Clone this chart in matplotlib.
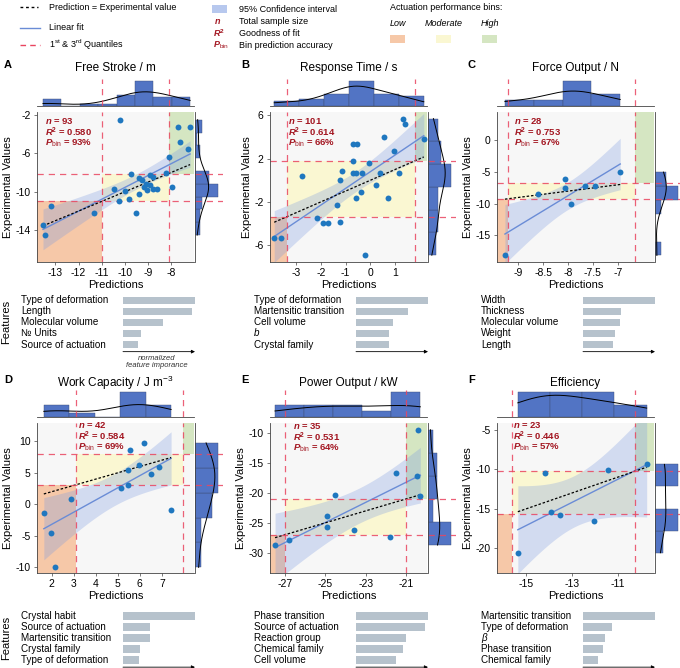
import matplotlib.pyplot as plt
import numpy as np
from matplotlib.patches import Rectangle
from matplotlib.transforms import blended_transform_factory

plt.rcParams['font.family'] = ['Liberation Sans', 'DejaVu Sans']
plt.rcParams['axes.unicode_minus'] = False
plt.rcParams['mathtext.fontset'] = 'custom'
plt.rcParams['mathtext.rm'] = 'Liberation Sans'
plt.rcParams['mathtext.it'] = 'Liberation Sans:italic'
plt.rcParams['mathtext.bf'] = 'Liberation Sans:bold'
plt.rcParams['mathtext.bfit'] = 'Liberation Sans:italic:bold'

# ---- data -------------------------------------------------------------
letters = ['A', 'B', 'C', 'D', 'E', 'F']
titles = ['Free Stroke / m', 'Response Time / s', 'Force Output / N',
          'Work Capacity / J m$^{-3}$', 'Power Output / kW', 'Efficiency']
n_samples = [93, 101, 28, 42, 35, 23]
r2_scores = ['0.580', '0.614', '0.753', '0.584', '0.531', '0.446']
p_bin = [93, 66, 67, 69, 64, 57]
q1 = [-11.0, -3.35, -9.2, 3.08, -27.0, -15.6]
q3 = [-8.1, 1.8, -6.66, 7.95, -21.0, -10.25]

pred_A = [-13.2, -13.54, -13.47, -11.35, -10.45, -10.27, -10.19, -9.98, -9.82,
          -9.72, -9.5, -9.4, -9.4, -9.24, -9.17, -9.1, -9.02, -8.9, -8.9,
          -8.77, -8.77, -8.6, -8.23, -8.09, -7.97, -7.68, -7.6, -7.24, -7.17]
exp_A = [-11.5, -13.5, -14.5, -12.2, -9.7, -11.0, -2.5, -9.9, -10.7,
         -8.1, -12.2, -8.6, -10.2, -8.8, -9.5, -9.2, -9.85, -9.3, -8.2,
         -8.5, -9.7, -9.7, -8.0, -6.4, -9.5, -3.3, -4.8, -5.5, -3.3]
pred_B = [-3.88, -3.61, -2.77, -2.15, -1.92, -1.73, -1.23, -1.22, -1.15, -1.36,
          -0.71, -0.55, -0.71, -0.71, -0.59, -0.59, -0.37, -0.35, -0.05, -0.21,
          0.22, 0.37, 0.53, 0.71, 0.94, 1.16, 1.3, 1.41, 2.15]
exp_B = [-5.29, -5.29, 0.37, -3.48, -3.91, -3.91, -3.82, 0.0, 0.86, -2.31,
         3.32, 3.38, 1.78, 0.71, 0.71, -1.6, -1.05, 0.71, 1.6, -6.92,
         -0.43, 0.71, 4.0, -1.6, 2.71, 0.71, 5.69, 5.17, 3.85]
pred_C = [-9.27, -8.6, -8.07, -8.07, -7.95, -7.65, -7.45, -6.95]
exp_C = [-18.16, -8.53, -6.05, -7.47, -10.1, -7.26, -7.26, -5.0]
pred_D = [1.64, 1.97, 2.15, 2.87, 5.13, 5.45, 5.45, 5.55, 5.96, 6.18, 6.52, 6.87, 7.42]
exp_D = [-1.38, -4.55, -10.0, 0.85, 2.59, 3.12, 5.4, 8.68, 6.3, 9.74, 4.81, 5.87, -0.95]
pred_E = [-27.49, -26.8, -24.92, -24.92, -24.5, -23.6, -21.82, -21.51, -20.46, -20.41, -20.3]
exp_E = [-28.72, -27.94, -23.78, -25.67, -20.28, -26.22, -27.33, -16.67, -17.11, -9.44, -20.44]
pred_F = [-15.36, -14.18, -13.92, -13.53, -12.05, -11.43, -9.73]
exp_F = [-20.54, -10.42, -15.42, -15.71, -16.58, -10.12, -9.38]

preds = [pred_A, pred_B, pred_C, pred_D, pred_E, pred_F]
exps = [exp_A, exp_B, exp_C, exp_D, exp_E, exp_F]

xticks = [[-13, -12, -11, -10, -9, -8], [-3, -2, -1, 0, 1], [-9, -8.5, -8, -7.5, -7],
          [2, 3, 4, 5, 6, 7], [-27, -25, -23, -21], [-15, -13, -11]]
yticks = [[-14, -10, -6, -2], [-6, -2, 2, 6], [-15, -10, -5, 0],
          [-10, -5, 0, 5, 10], [-30, -25, -20, -15, -10], [-20, -15, -10, -5]]

feat_names = [
    ['Type of deformation', 'Length', 'Molecular volume', '№ Units', 'Source of actuation'],
    ['Type of deformation', 'Martensitic transition', 'Cell volume', 'b', 'Crystal family'],
    ['Width', 'Thickness', 'Molecular volume', 'Weight', 'Length'],
    ['Crystal habit', 'Source of actuation', 'Martensitic transition', 'Crystal family',
     'Type of deformation'],
    ['Phase transition', 'Source of actuation', 'Reaction group', 'Chemical family', 'Cell volume'],
    ['Martensitic transition', 'Type of deformation', 'β', 'Phase transition', 'Chemical family'],
]
feat_imp = [
    [1.0, 0.955, 0.55, 0.25, 0.21],
    [1.0, 0.72, 0.51, 0.465, 0.455],
    [1.0, 0.525, 0.51, 0.45, 0.41],
    [1.0, 0.38, 0.37, 0.24, 0.22],
    [1.0, 0.96, 0.69, 0.65, 0.56],
    [1.0, 0.40, 0.31, 0.28, 0.21],
]

# ---- style / layout ---------------------------------------------------
LOW, MOD, HIGH = '#F6C8A8', '#FAF7D2', '#D5E6C2'
BG = '#F7F7F7'
PT = '#1F77BF'
FIT = '#6A8CD6'
CI = '#7D9BE0'
HIST = '#5274C4'
QCOL = '#E94560'
RED = '#A31621'
FEAT = '#B6C2CC'

xlims = [(-13.8, -7.0), (-4.05, 2.28), (-9.43, -6.27), (1.33, 8.46),
         (-27.74, -19.97), (-16.27, -9.41)]
ylims = [(-17.3, -1.7), (-7.55, 6.3), (-19.2, 4.5), (-10.9, 12.9),
         (-33.4, -8.3), (-23.1, -4.15)]
note_pos = [(0.05, 0.94), (0.115, 0.94), (0.11, 0.94), (0.26, 0.985),
            (0.145, 0.98), (0.10, 0.985)]

W, H = 680, 668
col_left = [37, 270, 497]
row_top = [112, 423]
title_y = [68, 383]
letter_x = [4, 241, 468]
feat_top = [295, 610.5]


def box(x0, y0, x1, y1):
    return [x0 / W, 1 - y1 / H, (x1 - x0) / W, (y1 - y0) / H]


def t975(df):
    z = 1.959964
    return z + (z**3 + z) / (4 * df) + (5 * z**5 + 16 * z**3 + 3 * z) / (96 * df**2)


def kde_curve(v, grid, binwidth):
    bw = v.std(ddof=1) * len(v) ** (-0.2)
    dens = np.exp(-0.5 * ((grid[:, None] - v[None, :]) / bw) ** 2).sum(1)
    dens /= len(v) * bw * np.sqrt(2 * np.pi)
    return dens * len(v) * binwidth


fig = plt.figure(figsize=(W / 100, H / 100), dpi=100)


def draw_panel(i):
    col, row = i % 3, i // 3
    L, T = col_left[col], row_top[row]
    x = np.array(preds[i])
    y = np.array(exps[i])
    lo, hi = q1[i], q3[i]
    x0, x1 = xlims[i]
    y0, y1 = ylims[i]

    ax = fig.add_axes(box(L, T, L + 157, T + 150))
    ax.set_facecolor(BG)
    ax.add_patch(Rectangle((x0, y0), lo - x0, lo - y0, color=LOW, lw=0, zorder=0))
    ax.add_patch(Rectangle((lo, lo), hi - lo, hi - lo, color=MOD, lw=0, zorder=0))
    ax.add_patch(Rectangle((hi, hi), x1 - hi, y1 - hi, color=HIGH, lw=0, zorder=0))

    # linear fit with 95% CI
    slope, icpt = np.polyfit(x, y, 1)
    xs = np.linspace(x.min(), x.max(), 100)
    yhat = slope * xs + icpt
    n = len(x)
    s = np.sqrt(((y - (slope * x + icpt)) ** 2).sum() / (n - 2))
    se = s * np.sqrt(1 / n + (xs - x.mean()) ** 2 / ((x - x.mean()) ** 2).sum())
    band = t975(n - 2) * se
    ax.fill_between(xs, yhat - band, yhat + band, color=CI, alpha=0.3, lw=0, zorder=1)
    ax.plot(xs, yhat, color=FIT, lw=1, zorder=2)
    ax.plot(xs, xs, color='k', ls=(0, (2, 1.5)), lw=0.9, zorder=2)
    for q in (lo, hi):
        ax.axvline(q, color=QCOL, ls=(0, (5, 4)), lw=0.9, alpha=0.85, zorder=2)
        ax.axhline(q, color=QCOL, ls=(0, (5, 4)), lw=0.9, alpha=0.85, zorder=2)
    ax.scatter(x, y, s=18, color=PT, lw=0, zorder=3)

    ax.set_xlim(x0, x1)
    ax.set_ylim(y0, y1)
    ax.set_xticks(xticks[i])
    ax.set_xticklabels([f'{v:g}' for v in xticks[i]])
    ax.set_yticks(yticks[i])
    ax.set_yticklabels([f'{v:g}' for v in yticks[i]])
    ax.tick_params(labelsize=7.5, length=2.5, width=0.5, color='#444444', pad=2)
    for side in ('top', 'right'):
        ax.spines[side].set_visible(False)
    for side in ('left', 'bottom'):
        ax.spines[side].set_linewidth(0.6)
        ax.spines[side].set_color('#444444')
    ax.set_xlabel('Predictions', fontsize=8, labelpad=1.5)
    ax.set_ylabel('Experimental Values', fontsize=8, labelpad=2)

    tx, ty = note_pos[i]
    step = 11 / 150
    ax.text(tx, ty, rf'$\mathbfit{{n}}$ = {n_samples[i]}', transform=ax.transAxes,
            color=RED, fontsize=6.8, weight='bold', va='center', zorder=5)
    ax.text(tx, ty - step, rf'$\mathbfit{{R}}^{{\mathbf{{2}}}}$ = {r2_scores[i]}',
            transform=ax.transAxes, color=RED, fontsize=6.8, weight='bold', va='center', zorder=5)
    ax.text(tx, ty - 2 * step, rf'$\mathbfit{{P}}_{{\mathrm{{bin}}}}$ = {p_bin[i]}%',
            transform=ax.transAxes, color=RED, fontsize=6.8, weight='bold', va='center', zorder=5)

    # top marginal
    at = fig.add_axes(box(L, T - 33, L + 157, T - 6))
    counts, edges = np.histogram(x, bins='auto')
    bwx = edges[1] - edges[0]
    at.bar(edges[:-1], counts, width=np.diff(edges), align='edge', color=HIST,
           edgecolor='#3A4A70', lw=0.3)
    gx = np.linspace(x.min(), x.max(), 200)
    at.plot(gx, kde_curve(x, gx, bwx), color='k', lw=0.7)
    for q in (lo, hi):
        at.axvline(q, color=QCOL, ls=(0, (5, 4)), lw=0.9, alpha=0.85)
    at.set_xlim(x0, x1)
    at.set_ylim(0, counts.max() * 1.08)
    at.set_xticks([])
    at.set_yticks([])
    for side in ('top', 'right', 'left'):
        at.spines[side].set_visible(False)
    at.spines['bottom'].set_linewidth(0.6)
    at.spines['bottom'].set_color('#444444')

    # right marginal
    ar = fig.add_axes(box(L + 158, T, L + 186, T + 150))
    counts, edges = np.histogram(y, bins='auto')
    bwy = edges[1] - edges[0]
    ar.barh(edges[:-1], counts, height=np.diff(edges), align='edge', color=HIST,
            edgecolor='#3A4A70', lw=0.3)
    gy = np.linspace(y.min(), y.max(), 200)
    ar.plot(kde_curve(y, gy, bwy), gy, color='k', lw=0.7)
    for q in (lo, hi):
        ar.axhline(q, color=QCOL, ls=(0, (5, 4)), lw=0.9, alpha=0.85)
    ar.set_ylim(y0, y1)
    ar.set_xlim(0, counts.max() * 1.22)
    ar.set_xticks([])
    ar.set_yticks([])
    for side in ('top', 'right', 'bottom'):
        ar.spines[side].set_visible(False)
    ar.spines['left'].set_linewidth(0.6)
    ar.spines['left'].set_color('#444444')

    # title and letter
    fig.text((L + 78.5) / W, 1 - title_y[row] / H, titles[i], fontsize=8.5,
             ha='center', va='center')
    fig.text(letter_x[col] / W, 1 - (title_y[row] - 3) / H, letters[i], fontsize=8,
             weight='bold', ha='left', va='center')

    # feature importance
    fa = fig.add_axes(box(L + 86, feat_top[row], L + 158, feat_top[row] + 55))
    fa.barh(range(5), feat_imp[i], height=0.72, color=FEAT)
    fa.set_ylim(4.5, -0.5)
    fa.set_xlim(0, 1.0)
    fa.axis('off')
    trans = blended_transform_factory(fig.transFigure, fa.transData)
    for k, name in enumerate(feat_names[i]):
        style = 'italic' if name in ('b', 'β') else 'normal'
        fa.text((L - 16) / W, k, name, transform=trans, fontsize=7.1, style=style,
                ha='left', va='center')
    fa.annotate('', xy=(1.0, -0.03), xytext=(0, -0.03), xycoords='axes fraction',
                arrowprops=dict(arrowstyle='-|>', lw=0.6, color='k', mutation_scale=5,
                                shrinkA=0, shrinkB=0))
    if i == 0:
        fa.text(0.47, -0.09, 'normalized\nfeature imporance', transform=fa.transAxes,
                fontsize=5.5, style='italic', ha='center', va='top', linespacing=1.0,
                color='#333333')
    if col == 0:
        fig.text(6 / W, 1 - (feat_top[row] + 27) / H, 'Features', rotation=90,
                 fontsize=8, ha='center', va='center')


for i in range(6):
    draw_panel(i)

# ---- legend -----------------------------------------------------------
leg = fig.add_axes(box(0, 0, W, 50))
leg.set_xlim(0, W)
leg.set_ylim(50, 0)
leg.axis('off')
fs = 6.5
leg.plot([20, 38], [7, 7], color='k', ls=(0, (2, 2)), lw=1)
leg.text(49, 7, 'Prediction = Experimental value', fontsize=fs, va='center')
leg.plot([20, 40], [28, 28], color=FIT, lw=1)
leg.text(49, 28, 'Linear fit', fontsize=fs, va='center')
leg.plot([20, 40], [45, 45], color=QCOL, ls=(0, (4, 3)), lw=1)
leg.text(49, 45, r'1$^{\mathrm{st}}$ & 3$^{\mathrm{rd}}$ Quantiles', fontsize=fs, va='center')
leg.add_patch(Rectangle((212, 5), 15, 8, color=CI, alpha=0.55, lw=0))
leg.text(239, 9, '95% Confidence interval', fontsize=fs, va='center')
leg.text(214, 21, r'$\mathbfit{n}$', fontsize=fs, color=RED, va='center')
leg.text(239, 21, 'Total sample size', fontsize=fs, va='center')
leg.text(213, 33, r'$\mathbfit{R}^{\mathbf{2}}$', fontsize=fs, color=RED, va='center')
leg.text(239, 33, 'Goodness of fit', fontsize=fs, va='center')
leg.text(213, 45, r'$\mathbfit{P}_{\mathrm{bin}}$', fontsize=fs, color=RED, va='center')
leg.text(239, 45, 'Bin prediction accuracy', fontsize=fs, va='center')
leg.text(390, 7, 'Actuation performance bins:', fontsize=fs, va='center')
for label, xc, colr in (('Low', 397.5, LOW), ('Moderate', 443.5, MOD), ('High', 489.5, HIGH)):
    leg.text(xc, 24, label, fontsize=fs, style='italic', ha='center', va='center')
    leg.add_patch(Rectangle((xc - 7.5, 35), 15, 8, color=colr, lw=0))

fig.savefig('out.png', dpi=100)
